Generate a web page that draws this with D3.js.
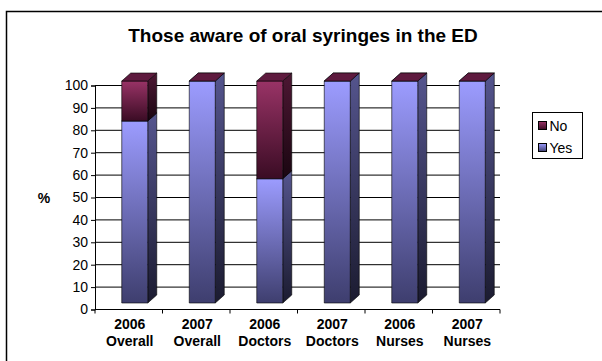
<!DOCTYPE html>
<html>
<head>
<meta charset="utf-8">
<script src="https://cdn.jsdelivr.net/npm/d3@7"></script>
<style>
  html, body { margin: 0; padding: 0; background: #fff; }
  svg { display: block; font-family: "Liberation Sans", Arial, sans-serif; }
</style>
</head>
<body>
<svg id="chart" width="602" height="361"></svg>
<script>
// Survey data: share of respondents aware of oral syringes in the ED
const categories = [
  ["2006", "Overall"], ["2007", "Overall"],
  ["2006", "Doctors"], ["2007", "Doctors"],
  ["2006", "Nurses"],  ["2007", "Nurses"]
];
const yesValues = [82, 100, 56, 100, 100, 100];
const noValues  = [18, 0, 44, 0, 0, 0];
const seriesNames = ["No", "Yes"];
const yTicks = [0, 10, 20, 30, 40, 50, 60, 70, 80, 90, 100];
const titleText = "Those aware of oral syringes in the ED";
const yAxisLabel = "%";

const svg = d3.select("#chart");

// Layout
const plot = { left: 95, right: 500, top: 85.5, bottom: 309.5 };
const depth = { dx: 9, dy: -8 };
const faceWidth = 26;
const faceShift = -7;   // front face left edge relative to band centre

const x = d3.scaleBand()
  .domain(d3.range(categories.length))
  .range([plot.left, plot.right]);

const y = d3.scaleLinear().domain([0, 100]).range([plot.bottom, plot.top]);
// Front plane of the columns sits slightly above the axis plane
const yBar = d3.scaleLinear().domain([0, 100]).range([303, 81]);

// Gradients
const defs = svg.append("defs");
function grad(id, top, bottom) {
  const g = defs.append("linearGradient").attr("id", id)
    .attr("x1", 0).attr("y1", 0).attr("x2", 0).attr("y2", 1);
  g.append("stop").attr("offset", "0%").attr("stop-color", top);
  g.append("stop").attr("offset", "100%").attr("stop-color", bottom);
}
grad("yesFront", "#9c9cff", "#3e3e6e");
grad("yesSide", "#55558e", "#1b1b30");
grad("noFront", "#993366", "#3a0c24");
grad("noSide", "#4d1733", "#1a0611");
const style = {
  Yes: { front: "url(#yesFront)", side: "url(#yesSide)", top: "#8a8ae0" },
  No:  { front: "url(#noFront)", side: "url(#noSide)", top: "#5e1a3e" }
};

// Chart frame
svg.append("rect")
  .attr("x", 6.5).attr("y", 11.5).attr("width", 620).attr("height", 380)
  .attr("fill", "#fff").attr("stroke", "#000").attr("stroke-width", 1.5);

// Title
svg.append("text")
  .attr("x", 303).attr("y", 42)
  .attr("text-anchor", "middle")
  .attr("font-size", 19).attr("font-weight", "bold")
  .text(titleText);

// Gridlines and value axis
const grid = svg.append("g");
grid.selectAll("line").data(yTicks.slice(1)).join("line")
  .attr("x1", plot.left).attr("x2", plot.right)
  .attr("y1", d => y(d)).attr("y2", d => y(d))
  .attr("stroke", "#000").attr("stroke-width", 1);

const yAxis = svg.append("g")
  .attr("transform", `translate(${plot.left},0)`)
  .call(d3.axisLeft(y).tickValues(yTicks).tickSize(4).tickPadding(3));
yAxis.select(".domain").attr("stroke", "#000");
yAxis.selectAll("text").attr("font-size", 14).attr("font-family", "Liberation Sans, Arial, sans-serif").attr("fill", "#000");

svg.append("text")
  .attr("x", 44).attr("y", 203)
  .attr("text-anchor", "middle")
  .attr("font-size", 14).attr("font-weight", "bold")
  .text(yAxisLabel);

// Category axis
const xAxis = svg.append("g")
  .attr("transform", `translate(0,${plot.bottom})`);
xAxis.append("line")
  .attr("x1", plot.left).attr("x2", plot.right)
  .attr("stroke", "#000");
xAxis.selectAll(".tick").data(d3.range(categories.length + 1)).join("line")
  .attr("x1", i => i < categories.length ? x(i) : plot.right)
  .attr("x2", i => i < categories.length ? x(i) : plot.right)
  .attr("y1", 0).attr("y2", 4).attr("stroke", "#000");
const cx = i => x(i) + x.bandwidth() / 2 + 1;
const catLabels = xAxis.selectAll("text").data(categories).join("text")
  .attr("text-anchor", "middle")
  .attr("font-size", 14).attr("font-weight", "bold");
catLabels.append("tspan").attr("x", (d, i) => cx(i)).attr("y", 19).text(d => d[0]);
catLabels.append("tspan").attr("x", (d, i) => cx(i)).attr("y", 36).text(d => d[1]);

// 3D stacked columns
const bars = svg.append("g");
const stacks = categories.map((c, i) => [
  { name: "Yes", lo: 0, hi: yesValues[i] },
  { name: "No", lo: yesValues[i], hi: yesValues[i] + noValues[i] }
]);
stacks.forEach((segs, i) => {
  const x0 = x(i) + x.bandwidth() / 2 + faceShift;
  const x1 = x0 + faceWidth;
  segs.forEach(s => {
    const yt = yBar(s.hi), yb = yBar(s.lo);
    const st = style[s.name];
    const g = bars.append("g").attr("stroke", "#000").attr("stroke-width", 0.6).attr("stroke-linejoin", "round");
    if (yb - yt > 0) {
      g.append("path")
        .attr("d", `M${x1},${yt}L${x1 + depth.dx},${yt + depth.dy}L${x1 + depth.dx},${yb + depth.dy}L${x1},${yb}Z`)
        .attr("fill", st.side);
      g.append("rect")
        .attr("x", x0).attr("y", yt).attr("width", faceWidth).attr("height", yb - yt)
        .attr("fill", st.front);
    }
    g.append("path")
      .attr("d", `M${x0},${yt}L${x0 + depth.dx},${yt + depth.dy}L${x1 + depth.dx},${yt + depth.dy}L${x1},${yt}Z`)
      .attr("fill", st.top);
  });
});

// Legend
const legend = svg.append("g").attr("transform", "translate(532.5,112.5)");
legend.append("rect").attr("width", 50).attr("height", 46)
  .attr("fill", "#fff").attr("stroke", "#000").attr("stroke-width", 1);
seriesNames.forEach((name, k) => {
  const row = legend.append("g").attr("transform", `translate(6,${9 + k * 22})`);
  row.append("rect").attr("width", 8).attr("height", 8)
    .attr("fill", style[name].front)
    .attr("stroke", "#000").attr("stroke-width", 1);
  row.append("text").attr("x", 11).attr("y", 9)
    .attr("font-size", 14).text(name);
});
</script>
</body>
</html>
